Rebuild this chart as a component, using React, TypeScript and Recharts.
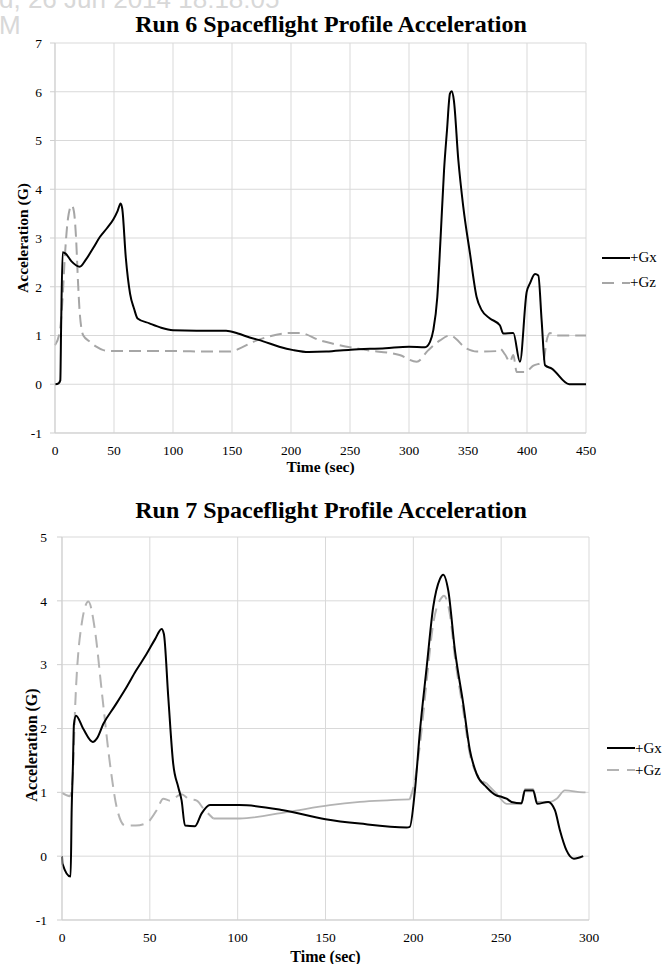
import React from 'react';
import { LineChart, Line, XAxis, YAxis, CartesianGrid, Legend, Label } from 'recharts';

const serif = "'Liberation Serif', 'Times New Roman', serif";
const GX_COLOR = '#000000';
const GZ_COLOR_6 = '#a6a6a6';
const GZ_COLOR_7 = '#b3b3b3';
const GRID = '#d9d9d9';
const AXIS = '#cfcfcf';

// [time (sec), acceleration (G)]
const run6Gx = [
  [0, 0], [3, 0.02], [4.5, 0.08], [5.2, 1.2], [6.5, 2.71], [9, 2.68], [14, 2.52], [21, 2.41],
  [26, 2.55], [32.5, 2.8], [38, 3.02], [44, 3.2], [49.4, 3.38], [53, 3.55], [55.6, 3.71], [57, 3.6],
  [60, 2.6], [63.6, 1.86], [67, 1.55], [70, 1.35], [80, 1.25], [90, 1.16], [100, 1.11], [120, 1.1],
  [145, 1.1], [155, 1.04], [165, 0.96], [176.5, 0.88], [190, 0.77], [202, 0.7], [215, 0.66],
  [230, 0.67], [250.6, 0.71], [280, 0.74], [300, 0.77], [313.6, 0.76], [317.8, 0.87], [320.6, 1.11],
  [324, 1.79], [326.8, 3.02], [329.7, 4.39], [332.2, 5.21], [334.7, 5.96], [336.2, 6.01], [338, 5.83],
  [341.8, 4.6], [346, 3.64], [351.7, 2.68], [357.3, 1.79], [361.6, 1.52], [368.6, 1.35], [377, 1.21],
  [379.9, 1.04], [388.4, 1.05], [394, 0.46], [399.7, 1.89], [402.5, 2.07], [406.8, 2.26], [409.6, 2.23],
  [412.4, 1.31], [415.3, 0.39], [421, 0.32], [435.8, 0], [450, 0],
];

const run6Gz = [
  [0, 0.8], [4.2, 1.1], [6, 1.6], [8.5, 2.68], [11, 3.4], [14.1, 3.67], [16, 3.55], [17.8, 3.02],
  [19.5, 2.1], [21, 1.45], [24, 1.0], [29.7, 0.87], [35, 0.77], [41, 0.7], [50, 0.68], [100, 0.68],
  [130, 0.67], [148.3, 0.67], [158, 0.75], [168, 0.87], [180, 0.97], [199, 1.05], [207.6, 1.05],
  [224.6, 0.9], [235.9, 0.83], [264, 0.7], [292, 0.6], [306.5, 0.46], [316.4, 0.7], [326.3, 0.9],
  [334.7, 1.0], [348.9, 0.73], [357.3, 0.67], [374.3, 0.68], [377, 0.73], [381.4, 0.61], [385.6, 0.46],
  [388.4, 0.6], [391.3, 0.25], [398.3, 0.25], [405.4, 0.38], [413.8, 0.46], [416.7, 0.9], [419.5, 1.05],
  [423.7, 1.0], [450, 1.0],
];

const run7Gx = [
  [0, 0], [0.3, -0.12], [4.9, -0.32], [5.5, 0.72], [6.2, 1.4], [6.8, 2.07], [8, 2.2], [12, 2.0],
  [17.5, 1.79], [20, 1.85], [23.5, 2.07], [30, 2.35], [36.8, 2.65], [42, 2.9], [48.2, 3.17], [53, 3.4],
  [56.7, 3.56], [58, 3.48], [60.5, 2.49], [63.3, 1.45], [66.2, 1.08], [68.1, 0.87], [70, 0.48],
  [75.7, 0.47], [79.5, 0.67], [84.2, 0.8], [101, 0.8], [126, 0.72], [150, 0.58], [169.6, 0.51],
  [196.2, 0.45], [198, 0.46], [200.9, 1.03], [203.8, 1.97], [207.6, 2.96], [211.3, 3.9], [215.1, 4.34],
  [217, 4.41], [219.9, 4.16], [223.7, 3.22], [228.4, 2.39], [232.2, 1.66], [236, 1.29], [241.7, 1.08],
  [247.4, 0.95], [250.2, 0.93], [253.1, 0.9], [255.9, 0.85], [261.6, 0.83], [263.5, 1.03], [268.2, 1.03],
  [270.5, 0.82], [276.8, 0.85], [280.6, 0.72], [283.4, 0.41], [287.2, 0.09], [291.4, -0.04], [296.7, 0],
];

// Run 7 +Gz: dashed where the dashes are visible, solid where the source draws it solid
const run7GzLaunch = [
  [0, 0.99], [4.5, 0.94], [6.1, 1.24], [7.4, 2.28], [11.2, 3.64], [15, 3.99], [18.8, 3.53], [22.6, 2.59],
  [27.3, 1.45], [31.1, 0.77], [35.9, 0.48], [42, 0.48], [48.2, 0.52], [53.9, 0.72], [57.7, 0.9],
  [61.5, 0.87], [68.1, 0.97], [72, 0.9], [76.7, 0.87], [80.4, 0.75], [86.1, 0.59],
];
const run7GzCoast = [
  [86.1, 0.59], [101, 0.59], [127.9, 0.69], [152.5, 0.8], [169.6, 0.85], [198, 0.89],
];
const run7GzEntry = [
  [198, 0.89], [200.9, 1.19], [203.8, 1.76], [207.6, 2.75], [211.3, 3.64], [216.1, 4.05], [217.4, 4.08],
  [220.8, 3.79], [223.7, 3.11], [228.4, 2.28], [232.2, 1.6], [236, 1.29], [241.7, 1.14],
];
const run7GzLanding = [
  [241.7, 1.14], [247.4, 0.98], [253.1, 0.82], [261.6, 0.82], [263.5, 1.05], [268.2, 1.05], [270.5, 0.85],
  [277.8, 0.85], [281.6, 0.9], [286.3, 1.03], [296.7, 1.0], [298, 1.0],
];

const run6TimeTicks = [0, 50, 100, 150, 200, 250, 300, 350, 400, 450];
const run6AccelTicks = [-1, 0, 1, 2, 3, 4, 5, 6, 7];
const run7TimeTicks = [0, 50, 100, 150, 200, 250, 300];
const run7AccelTicks = [-1, 0, 1, 2, 3, 4, 5];
const seriesNames = ['+Gx', '+Gz'];

const toPoints = (pts: number[][]) => pts.map(([t, g]) => ({ t, g }));

const tickStyle = { fill: '#000', fontSize: 13.5, fontFamily: serif };

const YTitle = ({ viewBox, cx, shift = 0, size = 15.5 }: any) => {
  const cy = viewBox.y + viewBox.height / 2 + shift;
  return (
    <text
      x={cx}
      y={cy}
      transform={`rotate(-90 ${cx} ${cy})`}
      textAnchor="middle"
      dominantBaseline="central"
      fontFamily={serif}
      fontWeight="bold"
      fontSize={size}
      fill="#000"
    >
      Acceleration (G)
    </text>
  );
};

const LegendBox = ({ rowHeight, gzColor }: { rowHeight: number; gzColor: string }) => (
  <div style={{ fontFamily: serif, fontSize: 15, color: '#000', whiteSpace: 'nowrap' }}>
    {seriesNames.map((name, i) => (
      <div key={name} style={{ display: 'flex', alignItems: 'center', height: rowHeight }}>
        <svg width={28} height={4} style={{ flex: 'none' }}>
          <line
            x1={0}
            y1={2}
            x2={28}
            y2={2}
            stroke={i ? gzColor : GX_COLOR}
            strokeWidth={2}
            strokeDasharray={i ? '12 8' : undefined}
          />
        </svg>
        <span>{name}</span>
      </div>
    ))}
  </div>
);

const titleStyle: React.CSSProperties = {
  position: 'absolute',
  left: 0,
  width: 662,
  textAlign: 'center',
  fontFamily: serif,
  fontWeight: 'bold',
  fontSize: 24,
  lineHeight: 1,
  color: '#000',
};

const markStyle: React.CSSProperties = {
  position: 'absolute',
  fontFamily: "'Liberation Sans', Arial, sans-serif",
  fontSize: 26,
  lineHeight: '19px',
  height: 19,
  color: '#d8d8d8',
  whiteSpace: 'nowrap',
};

const App = () => {
  return (
    <div style={{ position: 'absolute', left: 0, top: 0, width: 665, height: 964, background: '#fff', overflow: 'hidden' }}>
      {/* faint watermark from the scanned page */}
      <div style={{ ...markStyle, left: -1, top: -10 }}>d, 26 Jun 2014 18:18:05</div>
      <div style={{ ...markStyle, left: -1, top: 16, width: 20 }}>M</div>

      <div style={{ ...titleStyle, top: 12 }}>Run 6 Spaceflight Profile Acceleration</div>
      <div style={{ position: 'absolute', left: 0, top: 0 }}>
        <LineChart width={665} height={480} margin={{ top: 43, right: 79, bottom: 7, left: 15 }} style={{ fontFamily: serif }}>
          <CartesianGrid stroke={GRID} strokeWidth={1} />
          <XAxis
            type="number"
            dataKey="t"
            domain={[0, 450]}
            ticks={run6TimeTicks}
            height={40}
            stroke={AXIS}
            tickLine={false}
            tickSize={5}
            tickMargin={7}
            tick={tickStyle}
          >
            <Label value="Time (sec)" position="insideBottom" offset={1} style={{ fontFamily: serif, fontWeight: 'bold', fontSize: 15.5, fill: '#000' }} />
          </XAxis>
          <YAxis
            type="number"
            domain={[-1, 7]}
            ticks={run6AccelTicks}
            width={40}
            stroke={AXIS}
            tickSize={5}
            tickMargin={8}
            tick={tickStyle}
          >
            <Label content={<YTitle cx={22} shift={0} size={15.5} />} />
          </YAxis>
          <Legend
            layout="horizontal"
            verticalAlign="middle"
            align="center"
            wrapperStyle={{ left: 602, top: 245, width: 80 }}
            content={() => <LegendBox rowHeight={25} gzColor={GZ_COLOR_6} />}
          />
          <Line data={toPoints(run6Gz)} dataKey="g" name="+Gz" type="monotone" stroke={GZ_COLOR_6} strokeWidth={2} strokeDasharray="12 6" dot={false} isAnimationActive={false} />
          <Line data={toPoints(run6Gx)} dataKey="g" name="+Gx" type="monotone" stroke={GX_COLOR} strokeWidth={2} dot={false} isAnimationActive={false} />
        </LineChart>
      </div>

      <div style={{ ...titleStyle, top: 498 }}>Run 7 Spaceflight Profile Acceleration</div>
      <div style={{ position: 'absolute', left: 0, top: 485 }}>
        <LineChart width={665} height={479} margin={{ top: 52, right: 76, bottom: 4, left: 22 }} style={{ fontFamily: serif }}>
          <CartesianGrid stroke={GRID} strokeWidth={1} />
          <XAxis
            type="number"
            dataKey="t"
            domain={[0, 300]}
            ticks={run7TimeTicks}
            height={40}
            stroke={AXIS}
            tickLine={false}
            tickSize={5}
            tickMargin={7}
            tick={tickStyle}
          >
            <Label value="Time (sec)" position="insideBottom" offset={-2} style={{ fontFamily: serif, fontWeight: 'bold', fontSize: 16, fill: '#000' }} />
          </XAxis>
          <YAxis
            type="number"
            domain={[-1, 5]}
            ticks={run7AccelTicks}
            width={40}
            stroke={AXIS}
            tickSize={5}
            tickMargin={10}
            tick={tickStyle}
          >
            <Label content={<YTitle cx={31} shift={16.5} size={16} />} />
          </YAxis>
          <Legend
            layout="horizontal"
            verticalAlign="middle"
            align="center"
            wrapperStyle={{ left: 607, top: 252, width: 70 }}
            content={() => <LegendBox rowHeight={22} gzColor={GZ_COLOR_7} />}
          />
          <Line data={toPoints(run7GzLaunch)} dataKey="g" type="monotone" stroke={GZ_COLOR_7} strokeWidth={2} strokeDasharray="13 7" dot={false} isAnimationActive={false} />
          <Line data={toPoints(run7GzCoast)} dataKey="g" type="monotone" stroke={GZ_COLOR_7} strokeWidth={1.8} dot={false} isAnimationActive={false} />
          <Line data={toPoints(run7GzEntry)} dataKey="g" type="monotone" stroke={GZ_COLOR_7} strokeWidth={2} strokeDasharray="13 7" dot={false} isAnimationActive={false} />
          <Line data={toPoints(run7GzLanding)} dataKey="g" type="monotone" stroke={GZ_COLOR_7} strokeWidth={1.8} dot={false} isAnimationActive={false} />
          <Line data={toPoints(run7Gx)} dataKey="g" type="monotone" stroke={GX_COLOR} strokeWidth={2} dot={false} isAnimationActive={false} />
        </LineChart>
      </div>
    </div>
  );
};

export default App;
